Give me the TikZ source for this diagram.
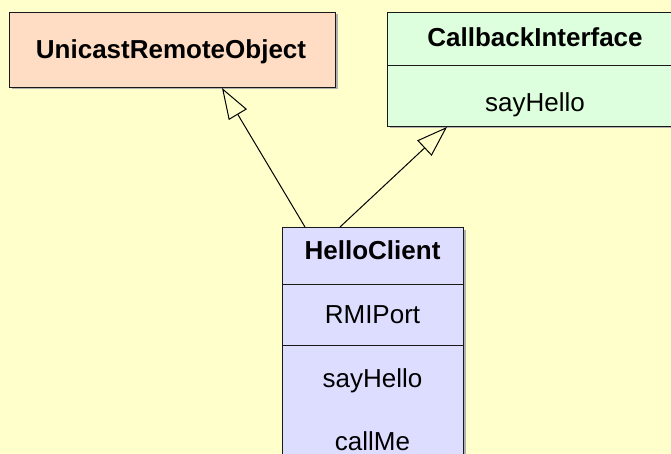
\documentclass[tikz,border=0pt]{standalone}
\usepackage{fontspec}
\setmainfont{Liberation Sans}
\usetikzlibrary{arrows.meta, positioning, shadows}
\definecolor{bgpage}{HTML}{FFFFCC}
\definecolor{bgsuper}{HTML}{FFDDC4}
\definecolor{bgiface}{HTML}{DDFFDD}
\definecolor{bgclass}{HTML}{DDDDFF}
\tikzset{
  classbox/.style  = {draw=black!90, line width=1pt, inner sep=0pt, anchor=north west,
                      general shadow={shadow xshift=2pt, shadow yshift=-2pt, fill=black!30}},
  namelbl/.style   = {font=\fontsize{26}{30}\selectfont\bfseries, anchor=base, inner sep=0pt},
  memberlbl/.style = {font=\fontsize{26}{30}\selectfont, anchor=base, inner sep=0pt},
  inherit/.style   = {-{Triangle[open, length=31pt, width=21pt, fill=bgpage]}, line width=1pt},
}

\begin{document}
\begin{tikzpicture}[x=1pt, y=-1pt]
    \clip (0,0) rectangle (671,454);
    \fill[bgpage] (0,0) rectangle (671,454);

    % superclass
    \node[classbox, fill=bgsuper, minimum width=326pt, minimum height=75pt] (uro) at (9,12) {};
    \node[namelbl] (uroname) at (171,59) {UnicastRemoteObject};

    % interface: name + operations
    \node[classbox, fill=bgiface, minimum width=296pt, minimum height=53pt] (cbhead) at (387,12) {};
    \node[classbox, fill=bgiface, minimum width=296pt, minimum height=61pt] (cbops)  at (387,65) {};
    \node[namelbl]   (cbname)  at (535,47)  {CallbackInterface};
    \node[memberlbl] (cbhello) at (535,112) {sayHello};

    % client class: name, attribute, operations
    \node[classbox, fill=bgclass, minimum width=181pt, minimum height=57pt]  (hchead)  at (282,227) {};
    \node[classbox, fill=bgclass, minimum width=181pt, minimum height=61pt]  (hcattr)  at (282,284) {};
    \node[classbox, fill=bgclass, minimum width=181pt, minimum height=140pt] (hcops)   at (282,345) {};
    \node[namelbl]   (hcname)  at (372.5,259) {HelloClient};
    \node[memberlbl] (hcport)  at (372.5,323) {RMIPort};
    \node[memberlbl] (hchello) at (372.5,387) {sayHello};
    \node[memberlbl] (hccall)  at (372.5,450) {callMe};

    % generalisation / realisation
    \draw[inherit] ([xshift=23pt]hchead.north west) -- ([xshift=213pt]uro.south west);
    \draw[inherit] ([xshift=58pt]hchead.north west) -- ([xshift=60pt]cbops.south west);
\end{tikzpicture}
\end{document}
